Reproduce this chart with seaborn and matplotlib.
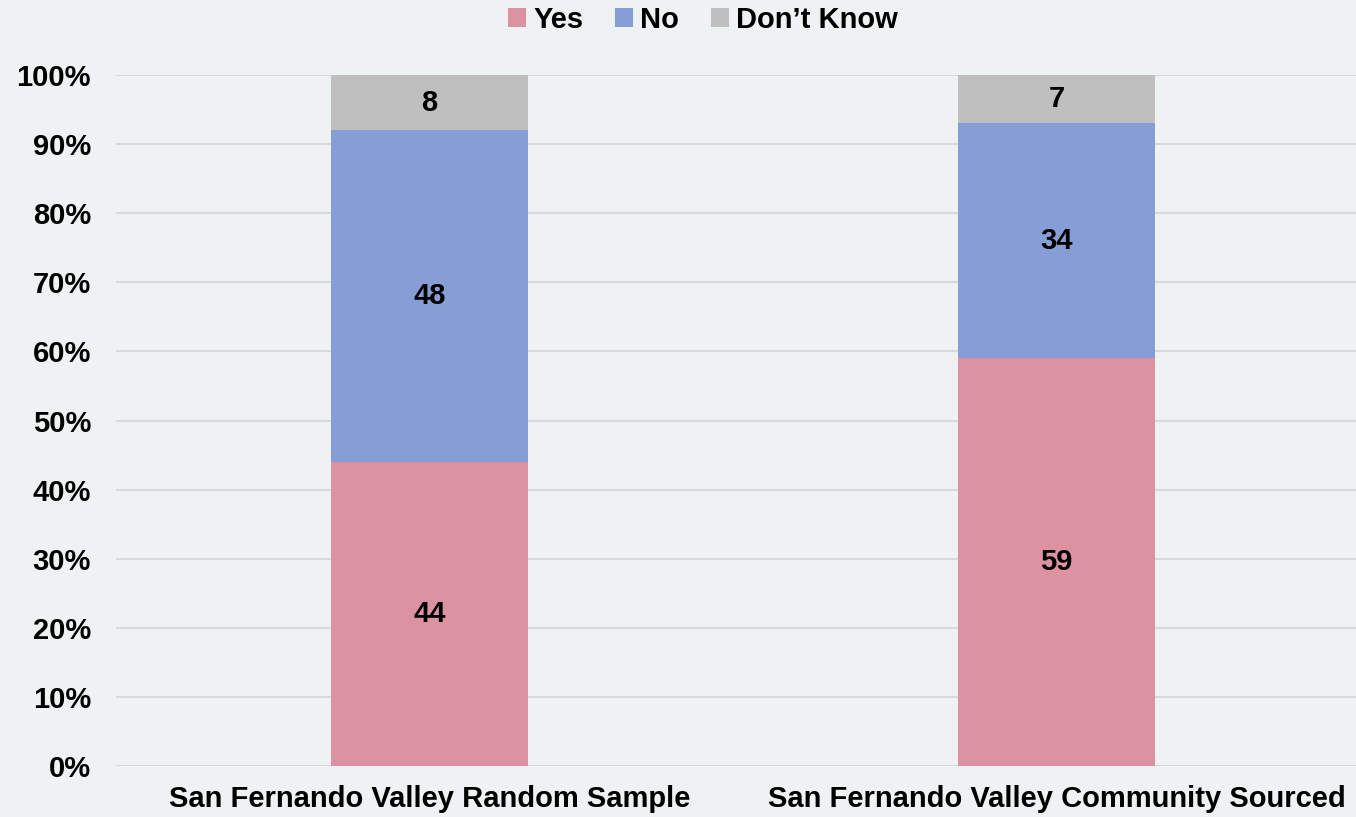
import pandas as pd
import matplotlib
matplotlib.use("Agg")
import matplotlib.pyplot as plt
import seaborn as sns

# Survey shares (percent)
groups = ["San Fernando Valley Random Sample", "San Fernando Valley Community Sourced"]
yes = [44, 59]
no = [48, 34]
dont_know = [8, 7]

series = ["Yes", "No", "Don\u2019t Know"]
colors = ["#DB93A2", "#869DD6", "#BFBFBF"]

bg = "#EEF2F3"
sns.set_theme(style="white")
plt.rcParams["font.family"] = ["Liberation Sans", "DejaVu Sans"]
plt.rcParams["font.weight"] = "bold"
plt.rcParams["text.color"] = "black"
plt.rcParams["xtick.color"] = "black"
plt.rcParams["ytick.color"] = "black"

fig = plt.figure(figsize=(13.56, 8.17), dpi=100, facecolor=bg)
ax = fig.add_axes([116 / 1356, 1 - 766 / 817, 1240 / 1356, (766 - 75) / 817])
ax.set_facecolor(bg)

df = pd.DataFrame({"group": groups, "Yes": yes, "No": no, "Don\u2019t Know": dont_know})

bottom = [0, 0]
for name, col in zip(series, colors):
    sns.barplot(data=df, x="group", y=name, color=col, width=0.314,
                bottom=bottom, ax=ax, label=name, saturation=1, linewidth=0)
    bottom = [b + v for b, v in zip(bottom, df[name])]

for cont in ax.containers:
    ax.bar_label(cont, labels=[f"{v:.0f}" for v in cont.datavalues],
                 label_type="center", fontsize=21, fontweight="bold", color="black")

ax.set_xlim(-0.5, -0.5 + 1240 / 627)
ax.set_ylim(0, 100)
ax.set_yticks(range(0, 101, 10))
ax.set_yticklabels([f"{t}%" for t in range(0, 101, 10)], fontsize=21, fontweight="bold")
ax.tick_params(axis="y", length=0, pad=18)
ax.tick_params(axis="x", length=0, pad=14, labelsize=21)
for lbl in ax.get_xticklabels():
    lbl.set_fontweight("bold")
ax.set_xlabel("")
ax.set_ylabel("")
ax.yaxis.grid(True, color="#D9D9D9", linewidth=1.5)
ax.set_axisbelow(True)
for s in ax.spines.values():
    s.set_visible(False)

ax.legend(loc="center", bbox_to_anchor=(0.5 + (703 - 116 - 620) / 1240, 1 + (75 - 20) / 691),
          ncol=3, frameon=False, fontsize=21, handlelength=0.6, handleheight=0.6,
          handletextpad=0.25, columnspacing=1.1, borderaxespad=0)

fig.savefig("out.png", dpi=100, facecolor=bg)
